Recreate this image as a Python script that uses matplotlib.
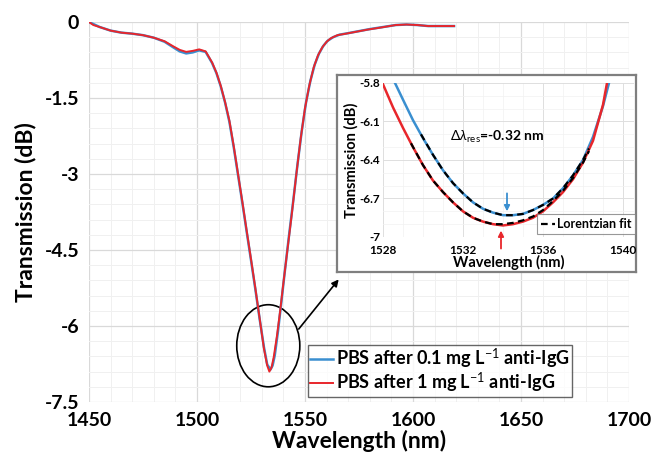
import matplotlib
matplotlib.use("Agg")
import matplotlib.pyplot as plt
from matplotlib.patches import Ellipse
from matplotlib.ticker import MultipleLocator

plt.rcParams["font.family"] = ["Lato", "DejaVu Sans"]
plt.rcParams["mathtext.fontset"] = "custom"
plt.rcParams["mathtext.rm"] = "Lato"
plt.rcParams["mathtext.it"] = "Lato:italic"
plt.rcParams["mathtext.bf"] = "Lato:bold"
plt.rcParams["mathtext.fallback"] = "stixsans"

# main spectrum (PBS after 1 mg/L anti-IgG, red)
wl_red = [1450, 1452, 1455, 1460, 1465, 1470, 1475, 1480, 1485, 1489, 1492, 1495,
          1498, 1501, 1504, 1507, 1509, 1511, 1513, 1515, 1517, 1519, 1521, 1523,
          1525, 1527, 1529, 1531, 1532.5, 1533.5, 1534.5, 1535.5, 1537, 1538.5,
          1540, 1542, 1544, 1546, 1548, 1550, 1552, 1554, 1556, 1558, 1560, 1562,
          1565, 1569, 1574, 1579, 1585, 1592, 1597, 1602, 1607, 1613, 1619]
tr_red = [0.00, -0.06, -0.10, -0.17, -0.21, -0.23, -0.26, -0.31, -0.38, -0.48, -0.55, -0.59,
          -0.57, -0.54, -0.58, -0.80, -1.00, -1.26, -1.58, -1.95, -2.45, -3.00, -3.55, -4.12,
          -4.68, -5.25, -5.85, -6.45, -6.78, -6.90, -6.82, -6.62, -6.20, -5.70,
          -5.15, -4.45, -3.75, -3.00, -2.30, -1.70, -1.25, -0.90, -0.66, -0.50, -0.39, -0.32,
          -0.26, -0.23, -0.19, -0.15, -0.11, -0.06, -0.05, -0.06, -0.08, -0.08, -0.08]

# main spectrum (PBS after 0.1 mg/L anti-IgG, blue)
wl_blue = [1450, 1455, 1460, 1465, 1470, 1475, 1480, 1485, 1489, 1492, 1495,
           1498, 1501, 1504, 1507, 1509, 1511, 1513, 1515, 1517, 1519, 1521, 1523,
           1525, 1527, 1529, 1531, 1532.5, 1534, 1535, 1536, 1537.5, 1539,
           1540.5, 1542.5, 1544.5, 1546.5, 1548.5, 1550.5, 1552.5, 1554.5, 1556.5,
           1558.5, 1560.5, 1563, 1566, 1570, 1575, 1580, 1586, 1592, 1597, 1602,
           1607, 1613, 1619]
tr_blue = [0.00, -0.10, -0.17, -0.21, -0.23, -0.26, -0.31, -0.39, -0.50, -0.58, -0.62,
           -0.60, -0.56, -0.59, -0.81, -1.01, -1.27, -1.59, -1.97, -2.47, -3.02, -3.57, -4.14,
           -4.70, -5.27, -5.86, -6.42, -6.76, -6.86, -6.78, -6.58, -6.10, -5.55,
           -4.98, -4.25, -3.55, -2.82, -2.15, -1.58, -1.16, -0.84, -0.62,
           -0.47, -0.37, -0.30, -0.25, -0.22, -0.18, -0.14, -0.10, -0.06, -0.05, -0.06,
           -0.08, -0.08, -0.08]

# inset: zoom around the resonance dip
in_wl_red = [1528.0, 1528.5, 1529.0, 1529.5, 1530.0, 1530.5, 1531.0, 1531.5, 1532.0,
             1532.5, 1533.0, 1533.5, 1534.0, 1534.5, 1535.0, 1535.5, 1536.0, 1536.5,
             1537.0, 1537.5, 1538.0, 1538.5, 1539.0, 1539.2]
in_tr_red = [-5.81, -5.99, -6.15, -6.30, -6.44, -6.56, -6.65, -6.73, -6.80,
             -6.85, -6.88, -6.90, -6.91, -6.90, -6.88, -6.85, -6.80, -6.73,
             -6.65, -6.55, -6.42, -6.25, -5.97, -5.80]
in_wl_blue = [1528.6, 1529.0, 1529.5, 1530.0, 1530.5, 1531.0, 1531.5, 1532.0, 1532.5,
              1533.0, 1533.5, 1534.0, 1534.5, 1535.0, 1535.5, 1536.0, 1536.5, 1537.0,
              1537.5, 1538.0, 1538.5, 1539.0, 1539.3]
in_tr_blue = [-5.80, -5.93, -6.09, -6.23, -6.36, -6.48, -6.58, -6.66, -6.73,
              -6.78, -6.81, -6.83, -6.83, -6.82, -6.79, -6.75, -6.70, -6.62,
              -6.52, -6.40, -6.22, -5.98, -5.80]

# Lorentzian fits
fit_wl_red = [1529.4, 1530.0, 1530.5, 1531.0, 1531.5, 1532.0, 1532.5, 1533.0, 1533.5,
              1534.0, 1534.5, 1535.0, 1535.5, 1536.0, 1536.5, 1537.0, 1537.5, 1538.0, 1538.3]
fit_tr_red = [-6.27, -6.44, -6.56, -6.65, -6.73, -6.80, -6.85, -6.88, -6.90,
              -6.90, -6.89, -6.87, -6.84, -6.79, -6.72, -6.64, -6.54, -6.42, -6.33]
fit_wl_blue = [1529.9, 1530.5, 1531.0, 1531.5, 1532.0, 1532.5, 1533.0, 1533.5, 1534.0,
               1534.5, 1535.0, 1535.5, 1536.0, 1536.5, 1537.0, 1537.5, 1538.0, 1538.3]
fit_tr_blue = [-6.20, -6.36, -6.48, -6.58, -6.66, -6.73, -6.78, -6.81, -6.83,
               -6.83, -6.82, -6.79, -6.75, -6.70, -6.62, -6.52, -6.40, -6.31]

min_red = 1533.9
min_blue = 1534.2

x_ticks = [1450, 1500, 1550, 1600, 1650, 1700]
y_ticks = [0, -1.5, -3, -4.5, -6, -7.5]
y_tick_labels = ["0", "-1.5", "-3", "-4.5", "-6", "-7.5"]
in_x_ticks = [1528, 1532, 1536, 1540]
in_y_ticks = [-5.8, -6.1, -6.4, -6.7, -7.0]
in_y_tick_labels = ["-5.8", "-6.1", "-6.4", "-6.7", "-7"]

RED = "#e8262b"
BLUE = "#3a8fd0"
W, H = 651, 461

fig = plt.figure(figsize=(W / 100, H / 100), dpi=100)
ax = fig.add_axes([89 / W, 1 - 402 / H, 540 / W, 380 / H])

ax.plot(wl_blue, tr_blue, color=BLUE, lw=1.8, label=r"PBS after 0.1 mg L$^{-1}$ anti-IgG")
ax.plot(wl_red, tr_red, color=RED, lw=1.4, label=r"PBS after 1 mg L$^{-1}$ anti-IgG")

ax.set_xlim(1450, 1700)
ax.set_ylim(-7.5, 0)
ax.set_xticks(x_ticks)
ax.set_yticks(y_ticks)
ax.set_yticklabels(y_tick_labels)
ax.xaxis.set_minor_locator(MultipleLocator(10))
ax.yaxis.set_minor_locator(MultipleLocator(0.3))
ax.grid(which="major", color="#d9d9d9", lw=0.9)
ax.grid(which="minor", color="#f0f0f0", lw=0.7)
ax.set_axisbelow(True)
for s in ax.spines.values():
    s.set_visible(False)
ax.tick_params(which="both", length=0, labelsize=14, pad=7)
for lab in ax.get_xticklabels() + ax.get_yticklabels():
    lab.set_fontweight("bold")
ax.set_xlabel("Wavelength (nm)", fontsize=16.5, fontweight="bold", labelpad=1)
ax.set_ylabel("Transmission (dB)", fontsize=16.5, fontweight="bold", labelpad=6)

ax.add_patch(Ellipse((1533, -6.39), 29.2, 1.62, fill=False, ec="black", lw=1.2))
ax.annotate("", xy=(1565.6, -5.08), xytext=(1547.1, -6.06),
            arrowprops=dict(arrowstyle="-|>", color="black", lw=1.2, mutation_scale=10,
                            shrinkA=0, shrinkB=0))

leg = ax.legend(loc="lower left", bbox_to_anchor=(0.405, 0.012), fancybox=False,
                edgecolor="#404040", handlelength=1.3, handletextpad=0.15,
                borderpad=0.12, labelspacing=0.0, borderaxespad=0,
                prop={"weight": "bold", "size": 13})
leg.get_frame().set_linewidth(1.0)

# inset frame
frame = fig.add_axes([337 / W, 1 - 272 / H, 299 / W, 197 / H])
frame.set_xticks([])
frame.set_yticks([])
frame.set_facecolor("white")
for s in frame.spines.values():
    s.set_color("#7f7f7f")
    s.set_linewidth(1.6)

ins = fig.add_axes([383 / W, 1 - 237 / H, 251 / W, 154 / H])
ins.set_facecolor("none")
ins.plot(in_wl_blue, in_tr_blue, color=BLUE, lw=1.8)
ins.plot(in_wl_red, in_tr_red, color=RED, lw=1.8)
ins.plot(fit_wl_blue, fit_tr_blue, color="black", lw=1.6, ls=(0, (3, 2)))
fit_line, = ins.plot(fit_wl_red, fit_tr_red, color="black", lw=1.6, ls=(0, (3, 2)),
                     label="Lorentzian fit")
ins.set_xlim(1528, 1540.55)
ins.set_ylim(-7.0, -5.8)
ins.set_xticks(in_x_ticks)
ins.set_yticks(in_y_ticks)
ins.set_yticklabels(in_y_tick_labels)
ins.xaxis.set_minor_locator(MultipleLocator(1))
ins.yaxis.set_minor_locator(MultipleLocator(0.1))
ins.grid(which="major", color="#dedede", lw=0.7)
ins.grid(which="minor", color="#f2f2f2", lw=0.5)
ins.set_axisbelow(True)
for s in ins.spines.values():
    s.set_visible(False)
ins.tick_params(axis="y", which="both", length=0, labelsize=8.5, pad=2)
ins.tick_params(axis="x", which="both", length=0, labelsize=8.5, pad=6)
for lab in ins.get_xticklabels() + ins.get_yticklabels():
    lab.set_fontweight("bold")
ins.set_xlabel("Wavelength (nm)", fontsize=10.5, fontweight="bold", labelpad=-1)
ins.set_ylabel("Transmission (dB)", fontsize=10.5, fontweight="bold", labelpad=1)

ins.annotate("", xy=(min_blue, -6.80), xytext=(min_blue, -6.66),
             arrowprops=dict(arrowstyle="-|>", color=BLUE, lw=1.3, mutation_scale=8,
                             shrinkA=0, shrinkB=0), annotation_clip=False)
ins.annotate("", xy=(min_red, -6.95), xytext=(min_red, -7.09),
             arrowprops=dict(arrowstyle="-|>", color=RED, lw=1.3, mutation_scale=8,
                             shrinkA=0, shrinkB=0), annotation_clip=False)
ins.text(1533.7, -6.22, r"$\Delta\lambda_{\mathrm{res}}$=-0.32 nm", fontsize=10,
         fontweight="bold", ha="center", va="center")

ileg = ins.legend(handles=[fit_line], loc="lower right", bbox_to_anchor=(1.005, 0.02),
                  fancybox=False, edgecolor="#7f7f7f", handlelength=1.1,
                  handletextpad=0.2, borderpad=0.3, borderaxespad=0,
                  prop={"weight": "bold", "size": 9})
ileg.get_frame().set_linewidth(0.8)

fig.savefig("out.png", dpi=100)
